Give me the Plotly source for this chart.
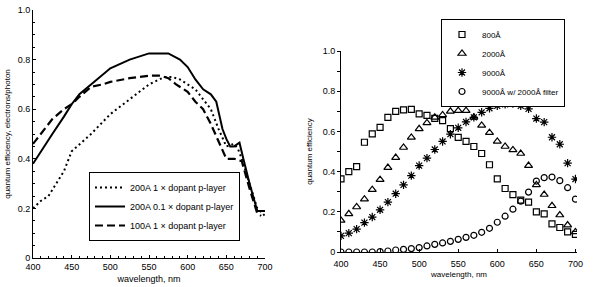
import plotly.graph_objects as go

# ---------------- Left panel data ----------------
solid_x = [400, 410, 425, 440, 450, 460, 475, 490, 500, 525, 550, 575, 590, 600, 610, 620, 630, 637, 641, 645, 650, 655, 660, 667, 672, 680, 690, 695, 700]
solid_y = [0.38, 0.43, 0.50, 0.57, 0.62, 0.66, 0.70, 0.74, 0.765, 0.80, 0.825, 0.825, 0.80, 0.77, 0.72, 0.68, 0.66, 0.63, 0.58, 0.52, 0.48, 0.45, 0.45, 0.465, 0.40, 0.30, 0.19, 0.19, 0.19]

dash_x = [400, 410, 425, 440, 450, 460, 475, 490, 500, 525, 550, 565, 575, 585, 590, 600, 610, 620, 630, 640, 650, 660, 670, 680, 690, 695]
dash_y = [0.46, 0.50, 0.56, 0.60, 0.62, 0.65, 0.69, 0.70, 0.71, 0.725, 0.735, 0.735, 0.725, 0.70, 0.69, 0.67, 0.63, 0.60, 0.54, 0.47, 0.40, 0.40, 0.39, 0.28, 0.18, 0.17]

dot_x = [400, 410, 420, 430, 440, 450, 475, 500, 525, 550, 570, 580, 590, 600, 610, 620, 630, 640, 650, 660, 665, 670, 680, 690, 700]
dot_y = [0.20, 0.23, 0.25, 0.30, 0.35, 0.43, 0.50, 0.58, 0.64, 0.70, 0.73, 0.73, 0.72, 0.70, 0.68, 0.64, 0.60, 0.52, 0.45, 0.46, 0.44, 0.40, 0.30, 0.20, 0.17]

left_names = ["200A 1 \u00d7 dopant p-layer", "200A 0.1 \u00d7 dopant p-layer", "100A 1 \u00d7 dopant p-layer"]

# ---------------- Right panel data ----------------
wl = [400, 410, 420, 430, 440, 450, 460, 470, 480, 490, 500, 510, 520, 530, 540, 550,
      560, 570, 580, 590, 600, 610, 620, 630, 640, 650, 660, 670, 680, 690, 700]
qe_800 = [0.364, 0.40, 0.425, 0.546, 0.588, 0.62, 0.67, 0.70, 0.707, 0.71, 0.687, 0.68, 0.665, 0.654, 0.614, 0.57,
          0.55, 0.525, 0.49, 0.434, 0.364, 0.316, 0.285, 0.258, 0.248, 0.20, 0.19, 0.14, 0.122, 0.10, 0.088]
qe_2000 = [0.157, 0.19, 0.224, 0.263, 0.31, 0.36, 0.42, 0.47, 0.52, 0.57, 0.613, 0.642, 0.67, 0.682, 0.70, 0.703,
           0.703, 0.67, 0.63, 0.594, 0.55, 0.525, 0.508, 0.49, 0.43, 0.334, 0.286, 0.23, 0.184, 0.134, 0.10]
qe_9000 = [0.08, 0.094, 0.114, 0.146, 0.174, 0.21, 0.248, 0.29, 0.334, 0.38, 0.43, 0.467, 0.51, 0.55, 0.586, 0.618,
           0.647, 0.67, 0.695, 0.715, 0.727, 0.735, 0.738, 0.727, 0.712, 0.664, 0.646, 0.571, 0.536, 0.442, 0.363]
qe_filt = [0.0, 0.0, 0.0, 0.0, 0.0, 0.002, 0.005, 0.01, 0.013, 0.017, 0.022, 0.03, 0.038, 0.045, 0.053, 0.063,
           0.073, 0.083, 0.098, 0.118, 0.148, 0.178, 0.213, 0.253, 0.298, 0.353, 0.37, 0.373, 0.355, 0.32, 0.263]
right_names = ["800\u00c5", "2000\u00c5", "9000\u00c5", "9000\u00c5 w/ 2000\u00c5 filter"]

FONT = "Liberation Sans, Arial, sans-serif"
W, H = 594, 287

fig = go.Figure()

fig.add_trace(go.Scatter(x=dot_x, y=dot_y, mode="lines", name=left_names[0],
                         line=dict(color="black", width=2, dash="2px,3px"), legend="legend"))
fig.add_trace(go.Scatter(x=solid_x, y=solid_y, mode="lines", name=left_names[1],
                         line=dict(color="black", width=2), legend="legend"))
fig.add_trace(go.Scatter(x=dash_x, y=dash_y, mode="lines", name=left_names[2],
                         line=dict(color="black", width=2.2, dash="8px,4px"), legend="legend"))

markers = [("square-open", 6), ("triangle-up-open", 7), ("asterisk-open", 7), ("circle-open", 6)]
for vals, nm, (sym, sz) in zip([qe_800, qe_2000, qe_9000, qe_filt], right_names, markers):
    fig.add_trace(go.Scatter(x=wl, y=vals, mode="markers", name=nm, xaxis="x2", yaxis="y2",
                             marker=dict(symbol=sym, size=sz, color="black", line=dict(color="black", width=1.2)),
                             legend="legend2"))

def px_x(p):
    return p / W

def px_y(p):
    return 1 - p / H

axis_common = dict(showgrid=False, zeroline=False, showline=True, linecolor="black", linewidth=1,
                   tickfont=dict(family=FONT, size=9, color="black"), ticklen=3, tickcolor="black",
                   automargin=False)

fig.update_layout(
    width=W, height=H,
    margin=dict(l=0, r=0, t=0, b=0),
    paper_bgcolor="white", plot_bgcolor="white",
    font=dict(family=FONT, color="black"),
    xaxis=dict(domain=[px_x(33), px_x(265)], range=[400, 700], tickvals=[400, 450, 500, 550, 600, 650, 700],
               ticks="inside", minor=dict(dtick=10, ticks="inside", ticklen=2, tickcolor="black"),
               title=dict(text="wavelength, nm", font=dict(size=9), standoff=4), **axis_common),
    yaxis=dict(domain=[px_y(258), px_y(10)], range=[0, 1.0], tickvals=[0, 0.2, 0.4, 0.6, 0.8, 1.0],
               ticktext=["0", "0.2", "0.4", "0.6", "0.8", "1.0"], ticks="inside",
               minor=dict(dtick=0.05, ticks="inside", ticklen=2, tickcolor="black"),
               title=dict(text="quantum efficiency, electrons/photon", font=dict(size=8), standoff=5), **axis_common),
    xaxis2=dict(domain=[px_x(341), px_x(577)], range=[400, 702], tickvals=[400, 450, 500, 550, 600, 650, 700],
                anchor="y2", ticks="inside", ticklabelstandoff=3,
                title=dict(text="wavelength, nm", font=dict(size=8), standoff=3), **axis_common),
    yaxis2=dict(domain=[px_y(252), px_y(51)], range=[0, 1.0], tickvals=[0, 0.2, 0.4, 0.6, 0.8, 1.0],
                ticktext=["0", "0.2", "0.4", "0.6", "0.8", "1.0"], anchor="x2", ticks="outside",
                minor=dict(dtick=0.1, ticks="outside", ticklen=3, tickcolor="black"),
                title=dict(text="quantum efficiency", font=dict(size=8), standoff=8), **axis_common),
    legend=dict(x=px_x(89), y=px_y(172), xanchor="left", yanchor="top", bgcolor="white",
                bordercolor="black", borderwidth=1, font=dict(size=9, family=FONT),
                itemwidth=30, tracegroupgap=0),
    legend2=dict(x=px_x(441), y=px_y(19), xanchor="left", yanchor="top", bgcolor="white",
                 bordercolor="black", borderwidth=1, font=dict(size=8, family=FONT),
                 itemwidth=30, tracegroupgap=0),
    showlegend=True,
)

fig.write_html("out.html")
